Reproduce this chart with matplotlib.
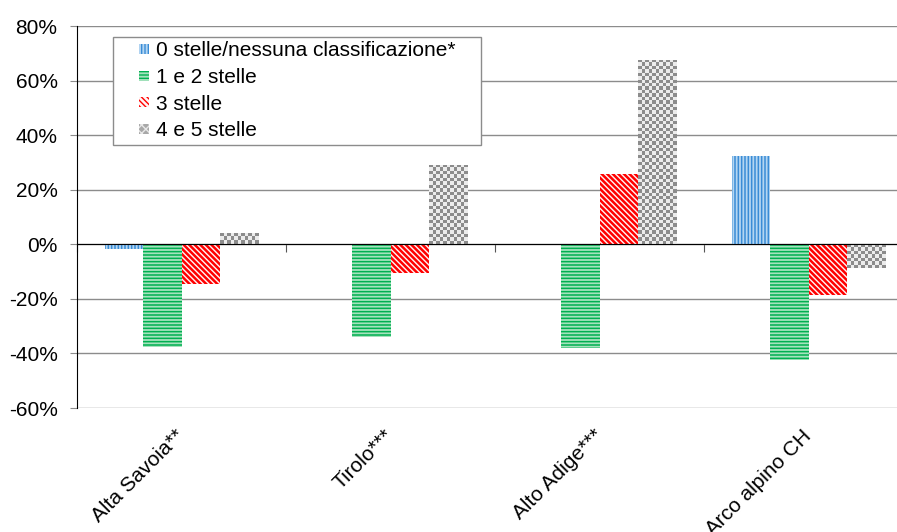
import matplotlib
matplotlib.use("Agg")
import matplotlib.pyplot as plt
import matplotlib.ticker as ticker
from matplotlib.patches import Rectangle, Patch
from matplotlib.legend_handler import HandlerPatch
import numpy as np

plt.rcParams["font.family"] = ["Liberation Sans", "DejaVu Sans"]

categories = ["Alta Savoia**", "Tirolo***", "Alto Adige***", "Arco alpino CH"]
series_names = ["0 stelle/nessuna classificazione*", "1 e 2 stelle", "3 stelle", "4 e 5 stelle"]
stelle_0 = [-1.8, 0.0, 0.0, 32.3]
stelle_12 = [-37.7, -33.8, -38.0, -42.5]
stelle_3 = [-14.4, -10.5, 25.6, -18.7]
stelle_45 = [4.1, 29.2, 67.5, -8.7]
y_ticks = [-60, -40, -20, 0, 20, 40, 60, 80]

W, H = 897, 532
fig = plt.figure(figsize=(W / 100, H / 100), dpi=100)
ax = fig.add_axes([77 / W, (H - 408) / H, 836 / W, 382 / H])

x = np.arange(len(categories))
bw = 0.182

styles = [
    dict(facecolor="#b4d6f2", edgecolor="#3a8cd6", hatch="|||||", hlw=1.1),
    dict(facecolor="#a6e2bd", edgecolor="#00b050", hatch="-----", hlw=1.1),
    dict(facecolor="#fff4f4", edgecolor="#ff0000", hatch="\\" * 6, hlw=1.8),
]
values = [stelle_0, stelle_12, stelle_3]

handles = []
for k, (vals, st) in enumerate(zip(values, styles)):
    with plt.rc_context({"hatch.linewidth": st["hlw"]}):
        bars = ax.bar(x + (k - 1.5) * bw, vals, bw, facecolor=st["facecolor"],
                      edgecolor=st["edgecolor"], hatch=st["hatch"], linewidth=0,
                      zorder=3)
    handles.append(bars.patches[0])

# 4 e 5 stelle: riempimento a scacchiera
ax.set_xlim(-0.5, 3.5)
ax.set_ylim(-60, 80)
gray_bars = ax.bar(x + 1.5 * bw, stelle_45, bw, facecolor="none", linewidth=0, zorder=3)
sq = 3.4
checker_cmap = matplotlib.colors.ListedColormap(["#8c8c8c", "#ececec"])
for p in gray_bars.patches:
    x0, y0, w, h = p.get_x(), p.get_y(), p.get_width(), p.get_height()
    (px0, py0), (px1, py1) = ax.transData.transform([(x0, y0), (x0 + w, y0 + h)])
    nc = max(1, int(round(abs(px1 - px0) / sq)))
    nr = max(1, int(round(abs(py1 - py0) / sq)))
    board = (np.indices((nr, nc)).sum(axis=0) % 2).astype(float)
    im = ax.imshow(board, cmap=checker_cmap, extent=(x0, x0 + w, y0, y0 + h),
                   aspect="auto", interpolation="nearest", zorder=3)
    im.set_clip_path(p)
ax.set_xlim(-0.5, 3.5)
ax.set_ylim(-60, 80)

handles.append(Patch(facecolor="#a8a8a8", edgecolor="#e8e8e8", hatch="xxxx", linewidth=0))

# assi
ax.set_yticks(y_ticks)
ax.yaxis.set_major_formatter(ticker.FuncFormatter(lambda v, _: f"{v:.0f}%"))
ax.grid(axis="y", color="#8c8c8c", linewidth=1.0, zorder=0)
ax.set_axisbelow(True)
ax.spines["top"].set_visible(False)
ax.spines["right"].set_visible(False)
ax.spines["left"].set_color("black")
ax.spines["bottom"].set_position(("data", 0))
ax.spines["bottom"].set_color("black")
ax.spines["bottom"].set_zorder(4)
ax.tick_params(axis="y", direction="out", length=5, color="#8c8c8c", labelsize=15, pad=9)
ax.set_xticks(np.arange(-0.5, 4.0, 1.0))
ax.tick_params(axis="x", direction="out", length=6, color="#555555", labelbottom=False)

for i, name in enumerate(categories):
    ax.annotate(name, xy=(x[i], 0), xycoords=("data", "axes fraction"),
                xytext=(0, -25), textcoords="offset pixels", rotation=45,
                rotation_mode="anchor", ha="right", va="center", fontsize=15)


def small_box(legend, orig_handle, xdescent, ydescent, width, height, fontsize):
    s = 7.2
    return Rectangle((width - s - xdescent, -ydescent + (height - s) / 2), s, s)


leg = ax.legend(handles, series_names, loc="upper left",
                bbox_to_anchor=(0.043, 0.971 - 0.2775, 0.44, 0.2775), mode="expand",
                fontsize=15, frameon=True, fancybox=False, framealpha=1,
                edgecolor="#8c8c8c", borderpad=0.2, labelspacing=0.37,
                handlelength=1.55, handleheight=0.7, handletextpad=0.3,
                borderaxespad=0,
                handler_map={Patch: HandlerPatch(patch_func=small_box),
                             Rectangle: HandlerPatch(patch_func=small_box)})
leg.get_frame().set_linewidth(1.0)
leg.set_zorder(5)

fig.savefig("out.png", dpi=100)
plt.close(fig)
